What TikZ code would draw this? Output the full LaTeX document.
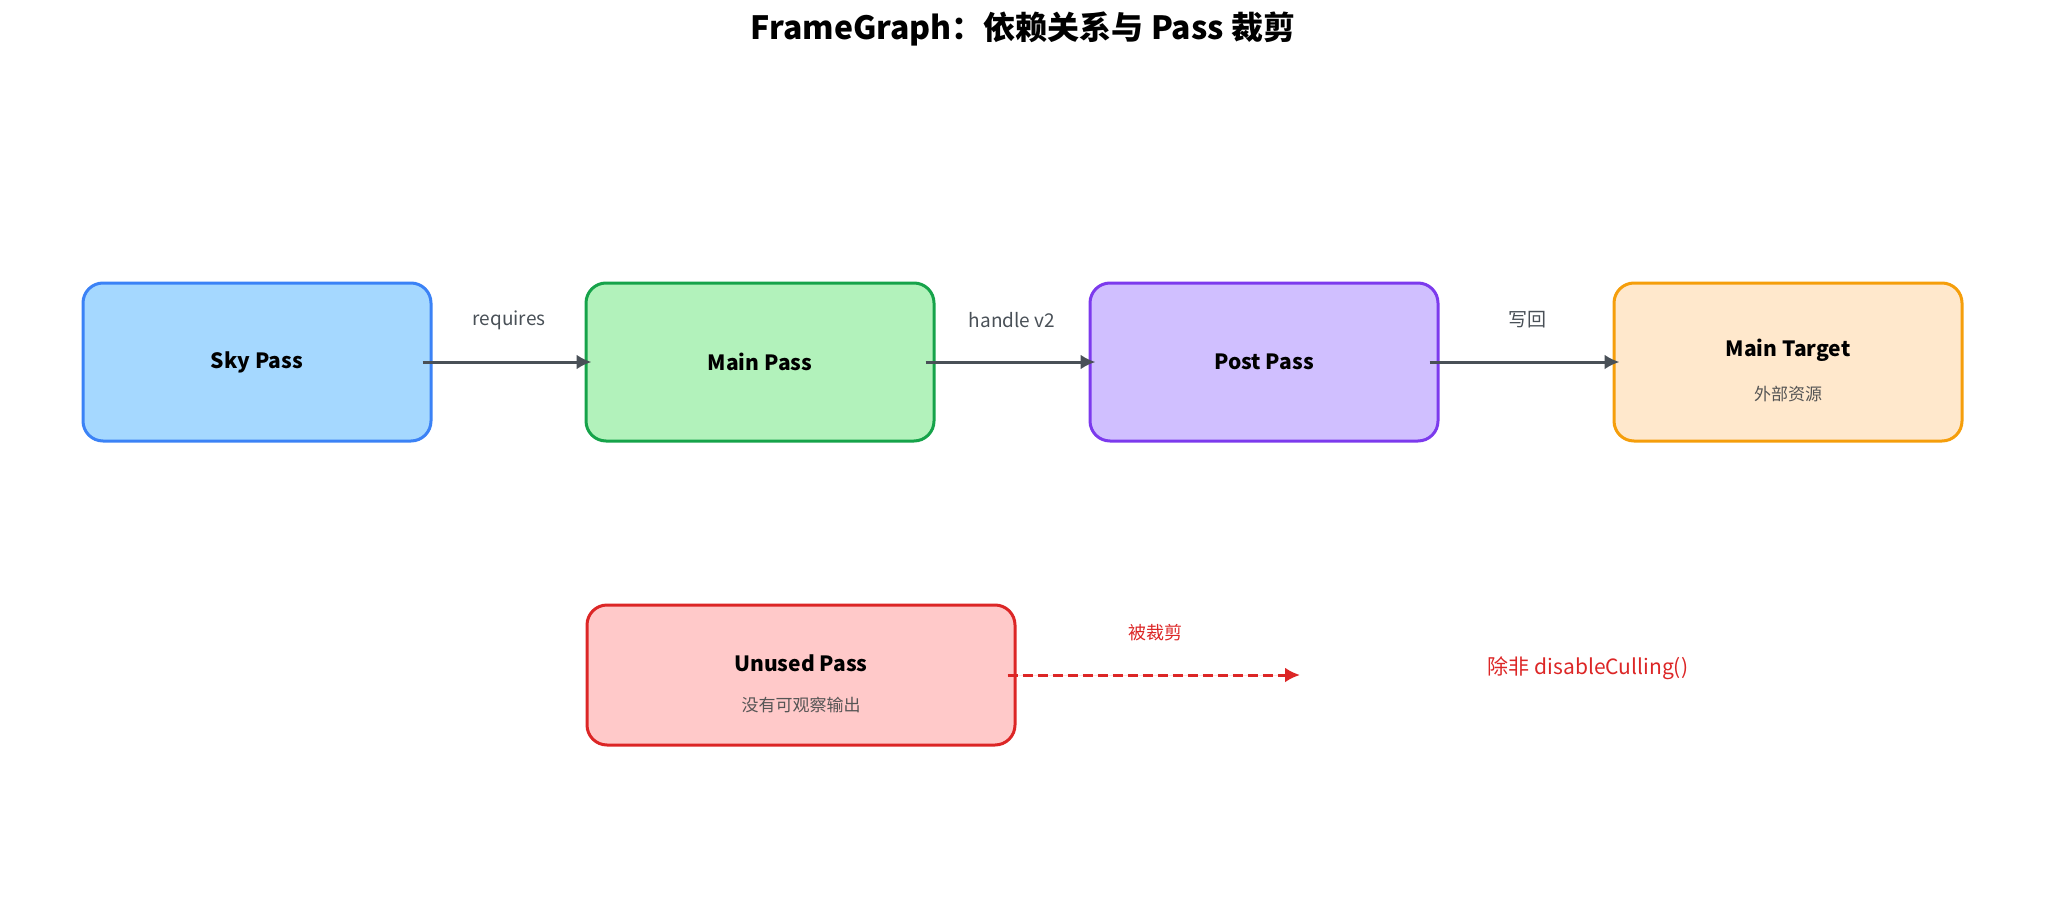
\documentclass[tikz,border=0pt]{standalone}
\usepackage{fontspec}
\setmainfont{Noto Sans CJK SC}
\usetikzlibrary{arrows.meta}
\definecolor{skyfill}{HTML}{A5D8FF}
\definecolor{skyline}{HTML}{3B82F6}
\definecolor{mainfill}{HTML}{B2F2BB}
\definecolor{mainline}{HTML}{16A34A}
\definecolor{postfill}{HTML}{D0BFFF}
\definecolor{postline}{HTML}{7C3AED}
\definecolor{targetfill}{HTML}{FFE8CC}
\definecolor{targetline}{HTML}{F59E0B}
\definecolor{unusedfill}{HTML}{FFC9C9}
\definecolor{unusedline}{HTML}{DC2626}
\definecolor{edgegray}{HTML}{495057}
\definecolor{subgray}{HTML}{555555}
\begin{document}
\begin{tikzpicture}[x=0.5pt,y=-0.5pt,
    passbox/.style={draw,line width=1.5pt,rounded corners=10pt,minimum width=174pt,minimum height=79pt,font=\fontsize{10.5}{13}\selectfont\bfseries},
    boxtitle/.style={font=\fontsize{10.5}{13}\selectfont\bfseries},
    subtext/.style={text=subgray,font=\fontsize{8.5}{10}\selectfont},
    flow/.style={-{Latex[length=7.5pt,width=7.5pt]},line width=1.5pt,draw=edgegray},
    flowlabel/.style={text=edgegray,font=\fontsize{9.5}{11}\selectfont}]
    \useasboundingbox (0,0) rectangle (2046,921);
    \node[font=\fontsize{16}{19}\selectfont\bfseries] (title) at (1023,29) {FrameGraph：依赖关系与 Pass 裁剪};
    % top row
    \node[passbox,fill=skyfill,draw=skyline] (sky) at (257,362) {Sky Pass};
    \node[passbox,fill=mainfill,draw=mainline] (main) at (760,362) {Main Pass};
    \node[passbox,fill=postfill,draw=postline] (post) at (1264,362) {Post Pass};
    \node[passbox,fill=targetfill,draw=targetline] (target) at (1788,362) {};
    \node[boxtitle] (targetname) at (1788,350) {Main Target};
    \node[subtext] (targetnote) at (1788,394) {外部资源};
    \draw[flow] ([xshift=-5pt]sky.east) -- ([xshift=3.5pt]main.west);
    \draw[flow] ([xshift=-5pt]main.east) -- ([xshift=3.5pt]post.west);
    \draw[flow] ([xshift=-5pt]post.east) -- ([xshift=3.5pt]target.west);
    \node[flowlabel] (l1) at (509,320) {requires};
    \node[flowlabel] (l2) at (1012,320) {handle v2};
    \node[flowlabel] (l3) at (1527,320) {写回};
    % culled pass
    \node[passbox,fill=unusedfill,draw=unusedline,minimum width=214pt,minimum height=70pt] (unused) at (801,675) {};
    \node[boxtitle] (unusedname) at (801,663) {Unused Pass};
    \node[subtext] (unusednote) at (801,705) {没有可观察输出};
    \coordinate (culled) at (1300,675);
    \draw[flow,draw=unusedline,fill=unusedline,dash pattern=on 5pt off 2.5pt] ([xshift=-4.5pt]unused.east) -- (culled);
    \node[text=unusedline,font=\fontsize{9}{11}\selectfont] (l4) at (1155,633) {被裁剪};
    \node[text=unusedline,font=\fontsize{10.5}{13}\selectfont] (note) at (1588,668) {除非 disableCulling()};
\end{tikzpicture}
\end{document}
